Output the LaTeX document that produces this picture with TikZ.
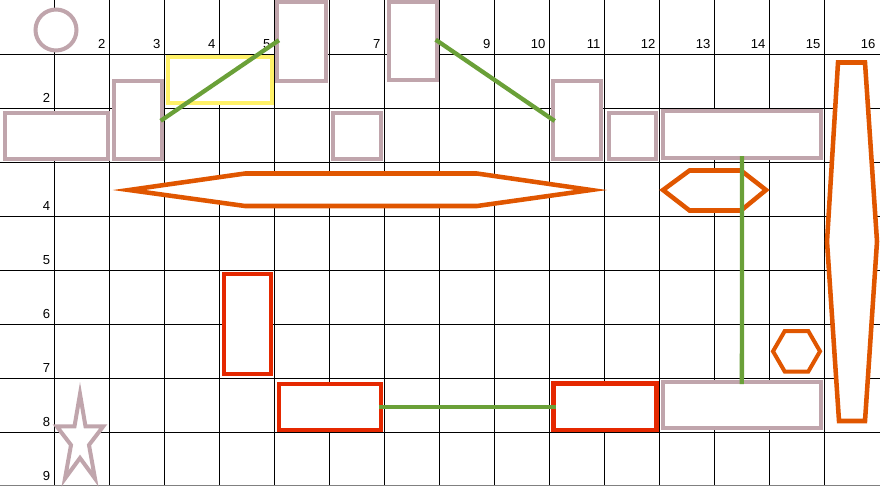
\documentclass[tikz,border=0pt]{standalone}
\usepackage{fontspec}
\setmainfont{Liberation Sans}
\usetikzlibrary{fit}
\definecolor{mauve}{RGB}{192,165,172}
\definecolor{hexorange}{RGB}{224,86,0}
\definecolor{boxred}{RGB}{229,40,0}
\definecolor{ylw}{RGB}{255,241,104}
\definecolor{grn}{RGB}{106,160,56}
\begin{document}
\begin{tikzpicture}[x=0.75pt,y=-0.75pt,
  box/.style={draw, fill=white, inner sep=0pt, outer sep=0pt},
  mbox/.style={box, draw=mauve, line width=3pt},
  ybox/.style={box, draw=ylw, line width=3.2pt},
  rbox/.style={box, draw=boxred, line width=3.6pt},
  hexo/.style={draw=hexorange, fill=white, line width=3.4pt, line join=miter},
  mshape/.style={draw=mauve, fill=white, line width=3pt, line join=miter},
  link/.style={draw=grn, line width=3.2pt, shorten <=-1.5pt, shorten >=-1.5pt},
  gridline/.style={black, line width=0.75pt},
  lbl/.style={inner sep=0pt, anchor=base east, font=\fontsize{9.8}{12}\selectfont}
]
\useasboundingbox (0,0) rectangle (880,486);
% grid
\foreach \k in {1,...,15} \draw[gridline] (55*\k-0.5,0) -- (55*\k-0.5,486);
\foreach \j in {1,...,8} \draw[gridline] (0,54*\j+0.6) -- (880,54*\j+0.6);
\draw[gridline, gray] (0,485.6) -- (880,485.6);
% labels
\foreach \k in {2,3,4,5,7,9,10,11,12,13,14,15,16}
  \node[lbl] (c\k) at (55*\k-4.3,48.7) {\k};
\foreach \j in {2,4,5,6,7,8,9}
  \node[lbl] (r\j) at (50.3,54*\j-5.3) {\j};
% circle
\node[circle, draw=mauve, fill=white, line width=3pt, inner sep=0pt, minimum size=30.75pt] (O) at (56,30) {};
% mauve boxes
\node[mbox, fit={(5.3,112.5) (108,158.7)}] (A) {};
\node[mbox, fit={(113.7,80.7) (162.3,158.7)}] (B) {};
\node[ybox, fit={(167.7,57) (272,103.3)}] (Y) {};
\node[mbox, fit={(277.3,2) (326.3,80.7)}] (C) {};
\node[mbox, fit={(333,113) (381.3,158.7)}] (D) {};
\node[mbox, fit={(389.3,2) (437.3,79.7)}] (E) {};
\node[mbox, fit={(553,81) (600.7,158.7)}] (F) {};
\node[mbox, fit={(608.7,113) (656.3,158.7)}] (G) {};
\node[mbox, fit={(663,111) (821,158)}] (H) {};
\node[mbox, fit={(663,382) (820.7,428)}] (M) {};
% red boxes
\node[rbox, fit={(224,274) (271,374)}] (R1) {};
\node[rbox, fit={(279,384) (381,430)}] (R2) {};
\node[rbox, fit={(553.5,383.5) (656.5,430)}] (R3) {};
% hexagons
\draw[hexo] (129,190) -- (245,173.5) -- (477,173.5) -- (591,190) -- (477,206) -- (245,206) -- cycle;
\draw[hexo] (663,190) -- (689.5,170.5) -- (741,170.5) -- (766,190) -- (741,210.5) -- (689.5,210.5) -- cycle;
\draw[hexo] (838,62.5) -- (865,62.5) -- (877,241.5) -- (865,421) -- (839,421) -- (827,241.5) -- cycle;
\draw[hexo, line width=3pt] (773,351.3) -- (784.75,331) -- (808.25,331) -- (820,351.3) -- (808.25,371.6) -- (784.75,371.6) -- cycle;
% star
\draw[mshape] (80,394) -- (85.5,426.3) -- (103.3,426.3) -- (89,445) -- (95,478.5)
  -- (80,458) -- (65,478.5) -- (71,445) -- (56.7,426.3) -- (74.5,426.3) -- cycle;
% connectors
\draw[link] (B.east) -- (C.west);
\draw[link] (E.east) -- (F.west);
\draw[link] (H.south) -- (M.north);
\draw[link] (R2.east) -- (R2.east -| R3.west);
\end{tikzpicture}
\end{document}
